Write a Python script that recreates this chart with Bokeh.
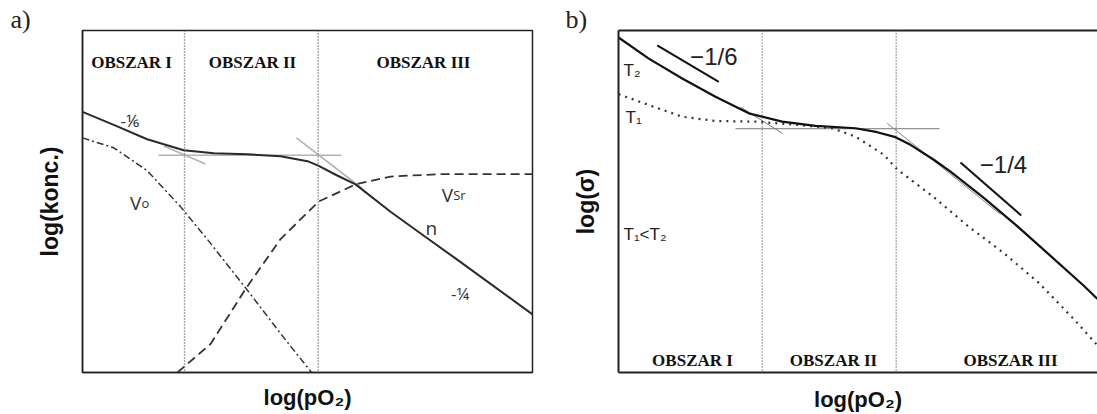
from bokeh.plotting import figure
from bokeh.models import Range1d, Label, Span, LinearAxis
from bokeh.layouts import row
from bokeh.embed import file_html
from bokeh.resources import INLINE

# ---------------- panel a data ----------------
a_regions = ["OBSZAR I", "OBSZAR II", "OBSZAR III"]
a_region_x = [0.436, 1.511, 3.031]
a_region_y = 4.527
a_bounds = [0.907, 2.095]

a_n_x = [0, 0.278, 0.575, 0.90, 1.167, 1.464, 1.76, 2.00, 2.10, 2.264, 2.427, 2.738, 3.034, 3.30, 4.0]
a_n_y = [3.81, 3.62, 3.41, 3.25, 3.205, 3.19, 3.16, 3.09, 3.02, 2.88, 2.75, 2.35, 2.00, 1.686, 0.85]

a_vsr_x = [0.844, 1.14, 1.453, 1.76, 2.10, 2.427, 2.738, 3.18, 4.0]
a_vsr_y = [0, 0.42, 1.23, 1.95, 2.50, 2.75, 2.865, 2.90, 2.90]

a_vo_x = [0, 0.278, 0.575, 0.871, 1.108, 1.453, 1.765, 2.036]
a_vo_y = [3.43, 3.285, 2.95, 2.425, 1.95, 1.23, 0.56, 0]

a_tan_h_x = [0.676, 2.30]
a_tan_h_y = [3.176, 3.176]
a_tan1_x = [0.723, 1.093]
a_tan1_y = [3.31, 3.047]
a_tan2_x = [1.902, 2.486]
a_tan2_y = [3.43, 2.69]

# ---------------- panel b data ----------------
b_regions = ["OBSZAR I", "OBSZAR II", "OBSZAR III"]
b_region_x = [0.74, 2.15, 3.92]
b_region_y = 0.12
b_bounds = [1.437, 2.777]

b_t2_x = [0, 0.303, 0.637, 0.97, 1.303, 1.637, 1.97, 2.37, 2.587, 2.77, 2.92, 3.153, 3.32,
          3.653, 3.987, 4.32, 4.653, 4.79]
b_t2_y = [3.37, 3.157, 2.957, 2.773, 2.607, 2.523, 2.48, 2.457, 2.417, 2.367, 2.29, 2.14, 2.02,
          1.757, 1.473, 1.173, 0.873, 0.74]

b_t1_x = [0, 0.303, 0.637, 0.97, 1.37, 1.803, 2.137, 2.37, 2.653, 2.79, 3.142, 3.494, 3.846,
          4.198, 4.55, 4.79]
b_t1_y = [2.80, 2.69, 2.573, 2.53, 2.523, 2.49, 2.457, 2.373, 2.19, 2.04, 1.773, 1.473, 1.207,
          0.907, 0.54, 0.273]

b_m16_x = [0.387, 1.003]
b_m16_y = [3.29, 2.923]
b_m14_x = [3.42, 4.027]
b_m14_y = [2.113, 1.58]

b_tan_h_x = [1.17, 3.21]
b_tan_h_y = [2.452, 2.452]
b_tan1_x = [1.22, 1.64]
b_tan1_y = [2.67, 2.405]
b_tan2_x = [2.687, 3.82]
b_tan2_y = [2.507, 1.59]

SANS = "Liberation Sans"
SERIF = "Liberation Serif"
OPEN = "Open Sans"


def style_axis(ax, label, size, width=1.5):
    ax.ticker = []
    ax.axis_label = label
    ax.axis_label_text_font = SANS
    ax.axis_label_text_font_style = "bold"
    ax.axis_label_text_font_size = size
    ax.axis_label_text_color = "#111111"
    ax.major_tick_out = 0
    ax.major_tick_in = 0
    ax.minor_tick_out = 0
    ax.minor_tick_in = 0
    ax.major_label_standoff = 0
    ax.axis_line_color = "#222222"
    ax.axis_line_width = width


def style_title(p, text, offset):
    p.title.text = text
    p.title.align = "left"
    p.title.offset = offset
    p.title.standoff = -6
    p.title.text_font = SERIF
    p.title.text_font_style = "normal"
    p.title.text_font_size = "26px"
    p.title.text_color = "#222222"


# ---------------- panel a ----------------
pa = figure(width=560, height=414, x_range=Range1d(0, 4), y_range=Range1d(0, 5),
            output_backend="svg", toolbar_location=None,
            min_border_left=82, min_border_right=28, min_border_top=27, min_border_bottom=38)
style_title(pa, "a)", -72)
pa.grid.visible = False
pa.outline_line_color = "#222222"
pa.outline_line_width = 1.5
style_axis(pa.xaxis[0], "log(pO₂)", "22px")
style_axis(pa.yaxis[0], "log(konc.)", "23px")
pa.xaxis[0].axis_label_standoff = 12
pa.yaxis[0].axis_label_standoff = 20

for b in a_bounds:
    pa.add_layout(Span(location=b, dimension="height", line_color="#555555",
                       line_width=1.4, line_dash="1 2"))

pa.line(a_tan_h_x, a_tan_h_y, line_color="#b3b3b3", line_width=1.6)
pa.line(a_tan1_x, a_tan1_y, line_color="#b3b3b3", line_width=1.6)
pa.line(a_tan2_x, a_tan2_y, line_color="#b3b3b3", line_width=1.6)

pa.line(a_vo_x, a_vo_y, line_color="#333333", line_width=1.5, line_dash="7 3 2 3")
pa.line(a_vsr_x, a_vsr_y, line_color="#333333", line_width=1.8, line_dash="9 5")
pa.line(a_n_x, a_n_y, line_color="#2a2a2a", line_width=2)

for t, x in zip(a_regions, a_region_x):
    pa.add_layout(Label(x=x, y=a_region_y, text=t, text_font=SERIF, text_font_style="bold",
                        text_font_size="17px", text_color="#111111",
                        text_align="center", text_baseline="alphabetic"))

pa.add_layout(Label(x=0.42, y=3.68, text="-⅙", text_font=OPEN, text_font_size="17px",
                    text_color="#333333", text_align="center", text_baseline="alphabetic"))
pa.add_layout(Label(x=3.356, y=1.16, text="-¼", text_font=OPEN, text_font_size="17px",
                    text_color="#333333", text_align="center", text_baseline="alphabetic"))
pa.add_layout(Label(x=0.524, y=2.474, text="V", text_font=OPEN, text_font_size="19px",
                    text_color="#333333", text_align="right", text_baseline="alphabetic"))
pa.add_layout(Label(x=0.524, y=2.474, text="o", text_font=OPEN, text_font_size="13px",
                    text_color="#333333", text_align="left", text_baseline="alphabetic"))
pa.add_layout(Label(x=3.295, y=2.593, text="V", text_font=OPEN, text_font_size="19px",
                    text_color="#333333", text_align="right", text_baseline="alphabetic"))
pa.add_layout(Label(x=3.295, y=2.593, text="Sr", text_font=OPEN, text_font_size="13px",
                    text_color="#333333", text_align="left", text_baseline="alphabetic"))
pa.add_layout(Label(x=3.10, y=2.116, text="n", text_font=OPEN, text_font_size="19px",
                    text_color="#333333", text_align="center", text_baseline="alphabetic"))

# ---------------- panel b ----------------
pb = figure(width=537, height=414, x_range=Range1d(0, 4.79), y_range=Range1d(0, 3.44),
            output_backend="svg", toolbar_location=None,
            min_border_left=58, min_border_right=0, min_border_top=30, min_border_bottom=40)
style_title(pb, "b)", -53)
pb.grid.visible = False
pb.outline_line_color = None
style_axis(pb.xaxis[0], "log(pO₂)", "22px", width=2)
style_axis(pb.yaxis[0], "log(σ)", "23px", width=2)
pb.xaxis[0].axis_label_standoff = 14
pb.yaxis[0].axis_label_standoff = 20
top_ax = LinearAxis()
style_axis(top_ax, None, "10px", width=2)
pb.add_layout(top_ax, "above")

for b in b_bounds:
    pb.add_layout(Span(location=b, dimension="height", line_color="#555555",
                       line_width=1.3, line_dash="1 2"))

pb.line(b_tan_h_x, b_tan_h_y, line_color="#777777", line_width=1)
pb.line(b_tan1_x, b_tan1_y, line_color="#777777", line_width=1)
pb.line(b_tan2_x, b_tan2_y, line_color="#888888", line_width=1)

pb.line(b_t1_x, b_t1_y, line_color="#333333", line_width=2.2, line_dash="2 5")
pb.line(b_t2_x, b_t2_y, line_color="#111111", line_width=2.2)
pb.line(b_m16_x, b_m16_y, line_color="#111111", line_width=2)
pb.line(b_m14_x, b_m14_y, line_color="#111111", line_width=2)

for t, x in zip(b_regions, b_region_x):
    pb.add_layout(Label(x=x, y=b_region_y, text=t, text_font=SERIF, text_font_style="bold",
                        text_font_size="17px", text_color="#111111",
                        text_align="center", text_baseline="alphabetic"))

pb.add_layout(Label(x=0.953, y=3.18, text="−1/6", text_font=SANS, text_font_size="24px",
                    text_color="#222222", text_align="center", text_baseline="alphabetic"))
pb.add_layout(Label(x=3.85, y=2.09, text="−1/4", text_font=SANS, text_font_size="24px",
                    text_color="#222222", text_align="center", text_baseline="alphabetic"))
pb.add_layout(Label(x=0.05, y=3.04, text="T₂", text_font=SANS, text_font_size="17px",
                    text_color="#222222", text_align="left", text_baseline="alphabetic"))
pb.add_layout(Label(x=0.07, y=2.56, text="T₁", text_font=SANS, text_font_size="17px",
                    text_color="#222222", text_align="left", text_baseline="alphabetic"))
pb.add_layout(Label(x=0.05, y=1.39, text="T₁<T₂", text_font=SANS, text_font_size="17px",
                    text_color="#222222", text_align="left", text_baseline="alphabetic"))

layout = row(pa, pb)
open("out.html", "w").write(file_html(layout, INLINE))
